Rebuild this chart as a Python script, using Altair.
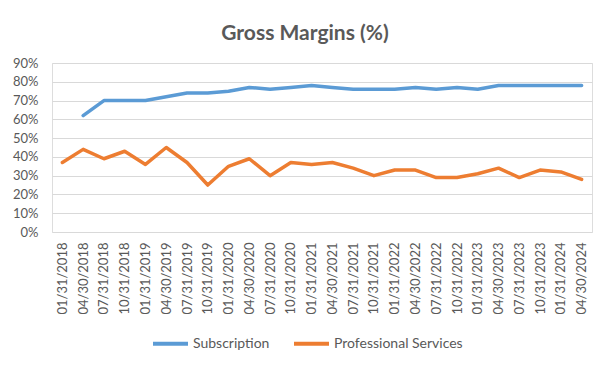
import altair as alt
import pandas as pd

dates = ["01/31/2018", "04/30/2018", "07/31/2018", "10/31/2018",
         "01/31/2019", "04/30/2019", "07/31/2019", "10/31/2019",
         "01/31/2020", "04/30/2020", "07/31/2020", "10/31/2020",
         "01/31/2021", "04/30/2021", "07/31/2021", "10/31/2021",
         "01/31/2022", "04/30/2022", "07/31/2022", "10/31/2022",
         "01/31/2023", "04/30/2023", "07/31/2023", "10/31/2023",
         "01/31/2024", "04/30/2024"]
subscription = [None, 62, 70, 70, 70, 72, 74, 74, 75, 77, 76, 77, 78,
                77, 76, 76, 76, 77, 76, 77, 76, 78, 78, 78, 78, 78]
professional = [37, 44, 39, 43, 36, 45, 37, 25, 35, 39, 30, 37, 36,
                37, 34, 30, 33, 33, 29, 29, 31, 34, 29, 33, 32, 28]
series_names = ["Subscription", "Professional Services"]
series_colors = ["#5B9BD5", "#ED7D31"]

rows = []
for name, vals in zip(series_names, [subscription, professional]):
    for d, v in zip(dates, vals):
        rows.append({"date": d, "series": name,
                     "value": None if v is None else v / 100})
df = pd.DataFrame(rows)

FONT = "Lato"
GREY = "#595959"

chart = alt.Chart(df).mark_line(strokeWidth=3.5, strokeCap="round", strokeJoin="round").encode(
    x=alt.X("date:N", sort=dates, title=None,
            scale=alt.Scale(type="point", padding=0.5),
            axis=alt.Axis(labelAngle=-90, labelFontSize=13, labelColor=GREY,
                          labelFont=FONT, ticks=False, domain=False, grid=False,
                          labelPadding=10)),
    y=alt.Y("value:Q", title=None,
            scale=alt.Scale(domain=[0, 0.9], nice=False),
            axis=alt.Axis(format=".0%", values=[i / 10 for i in range(10)],
                          labelFontSize=13, labelColor=GREY, labelFont=FONT,
                          ticks=False, domain=False, gridColor="#D9D9D9",
                          gridWidth=1, labelPadding=14)),
    color=alt.Color("series:N", title=None,
                    scale=alt.Scale(domain=series_names, range=series_colors),
                    legend=alt.Legend(orient="none", legendX=99, legendY=261,
                                      direction="horizontal", symbolType="stroke",
                                      symbolSize=1225, symbolStrokeWidth=4,
                                      labelFontSize=14, labelColor=GREY,
                                      labelFont=FONT, labelOffset=3,
                                      columnPadding=16, padding=0)),
).properties(
    width=540, height=169,
    title=alt.Title("Gross Margins (%)", fontSize=21, font=FONT, fontWeight="bold",
                    color=GREY, anchor="middle", dx=-17, dy=30, offset=26,
                    baseline="alphabetic"),
    autosize=alt.AutoSizeParams(type="none"),
    padding={"left": 44, "top": 55, "right": 11, "bottom": 128},
).configure_view(stroke=None).configure(background="white")

chart.save("out.html", embed_options={"renderer": "svg", "actions": False})
